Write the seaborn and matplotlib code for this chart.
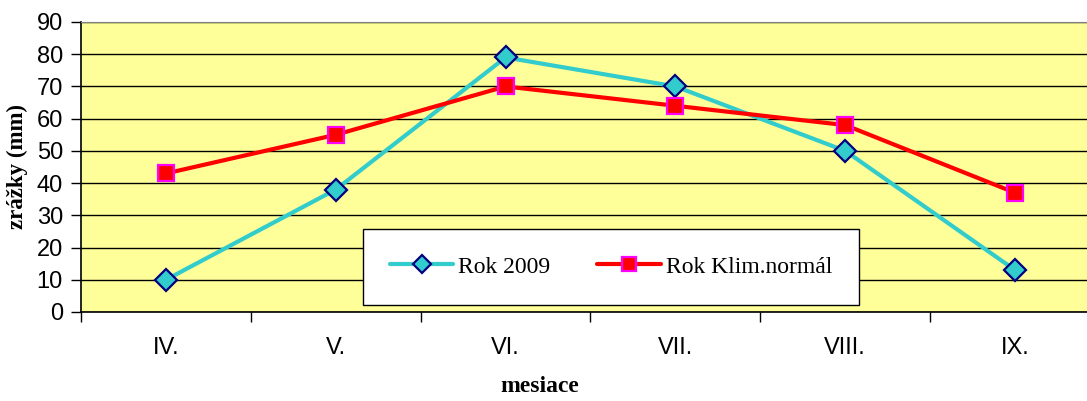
import numpy as np
import pandas as pd
import matplotlib
matplotlib.use("Agg")
import matplotlib.pyplot as plt
import seaborn as sns

months = ["IV.", "V.", "VI.", "VII.", "VIII.", "IX."]
rok_2009 = [10, 38, 79, 70, 50, 13]
rok_klim = [43, 55, 70, 64, 58, 37]
series_names = ["Rok 2009", "Rok Klim.normál"]

sns.set_style("white")
plt.rcParams['font.family'] = ['Liberation Sans', 'DejaVu Sans']
plt.rcParams['text.color'] = 'black'
plt.rcParams['axes.labelcolor'] = 'black'
plt.rcParams['xtick.color'] = 'black'
plt.rcParams['ytick.color'] = 'black'

df = pd.DataFrame({
    "mesiac": months * 2,
    "zrazky": rok_2009 + rok_klim,
    "rad": [series_names[0]] * len(months) + [series_names[1]] * len(months),
})

fig = plt.figure(figsize=(10.87, 4.01), dpi=100)
W, H = 1087, 401
ax = fig.add_axes([81 / W, 1 - 312 / H, (1100 - 81) / W, (312 - 22) / H])
ax.set_facecolor("#FFFF99")

styles = {
    series_names[0]: dict(color="#33CCCC", marker="D", mfc="#33CCCC", mec="#000080", ms=11),
    series_names[1]: dict(color="#FF0000", marker="s", mfc="#FF0000", mec="#FF00FF", ms=12),
}
for name in series_names:
    st = styles[name]
    sub = df[df["rad"] == name]
    sns.lineplot(data=sub, x="mesiac", y="zrazky", ax=ax, color=st["color"],
                 linewidth=3.0, marker=st["marker"], markersize=st["ms"],
                 markerfacecolor=st["mfc"], markeredgecolor=st["mec"],
                 markeredgewidth=1.6, label=name, sort=False, zorder=3)

ax.set_xlim(-0.5, len(months) - 0.5)
ax.set_ylim(0, 90)
ax.set_yticks(np.arange(0, 91, 10))
ax.yaxis.grid(True, color="black", linewidth=1.0)
ax.set_axisbelow(True)

ax.set_xticks(range(len(months)))
ax.set_xticklabels(months)
ax.set_xticks(np.arange(-0.5, len(months), 1.0), minor=True)
ax.tick_params(axis="x", which="major", length=0, pad=18, labelsize=17)
ax.tick_params(axis="x", which="minor", length=7, width=1, color="black", direction="out", bottom=True)
ax.tick_params(axis="y", length=7, width=1, color="black", direction="out", left=True, pad=6, labelsize=17)

for s in ["left", "bottom"]:
    ax.spines[s].set_color("black")
    ax.spines[s].set_linewidth(1.2)
ax.spines["top"].set_color("#808080")
ax.spines["right"].set_visible(False)

ax.set_xlabel("mesiace", fontsize=17, fontweight="bold", family="Liberation Serif")
ax.set_ylabel("zrážky (mm)", fontsize=16.5, fontweight="bold", family="Liberation Serif")
ax.xaxis.set_label_coords((540 - 81) / 1019, -0.22)
ax.yaxis.set_label_coords(-0.052, 0.5)

leg = ax.legend(loc="center", bbox_to_anchor=((611 - 81) / 1019, (312 - 267) / 290),
                ncol=2, frameon=True, fancybox=False, shadow=False,
                prop={"family": "Liberation Serif", "size": 17},
                handlelength=2.7, handletextpad=0.2, columnspacing=2.0,
                borderpad=1.15, markerscale=0.8, borderaxespad=0)
leg.get_frame().set_edgecolor("black")
leg.get_frame().set_linewidth(1.0)
leg.get_frame().set_facecolor("white")
leg.get_frame().set_alpha(1.0)

fig.savefig("out.png", dpi=100)
